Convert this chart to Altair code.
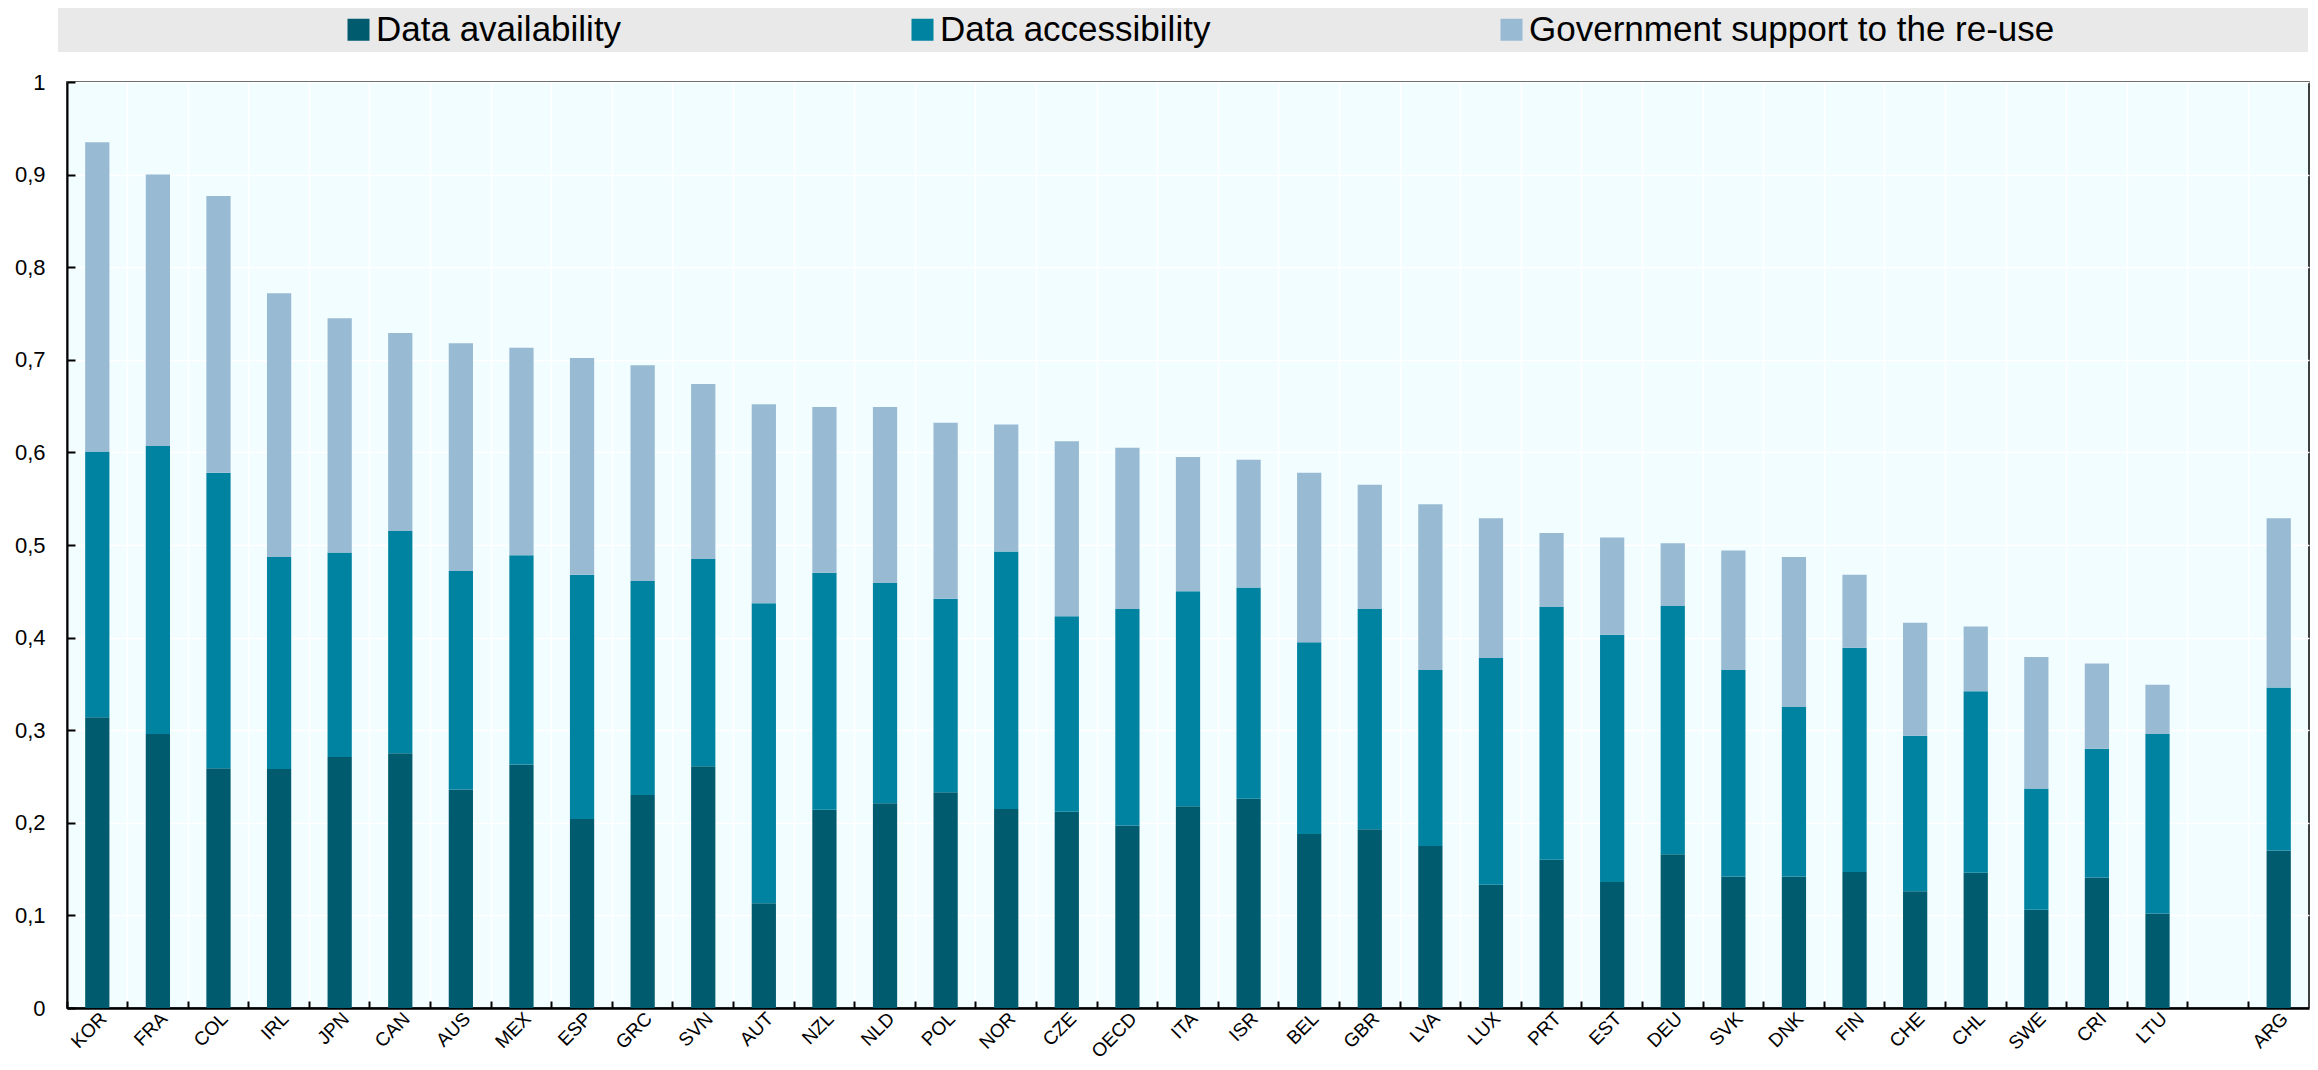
import altair as alt
import pandas as pd

countries = ["KOR", "FRA", "COL", "IRL", "JPN", "CAN", "AUS", "MEX", "ESP", "GRC",
             "SVN", "AUT", "NZL", "NLD", "POL", "NOR", "CZE", "OECD", "ITA", "ISR",
             "BEL", "GBR", "LVA", "LUX", "PRT", "EST", "DEU", "SVK", "DNK", "FIN",
             "CHE", "CHL", "SWE", "CRI", "LTU", "ARG"]

availability = [0.314, 0.296, 0.259, 0.258, 0.271, 0.275, 0.236, 0.263, 0.204, 0.230,
                0.261, 0.113, 0.214, 0.221, 0.233, 0.215, 0.212, 0.197, 0.218, 0.226,
                0.188, 0.193, 0.175, 0.133, 0.160, 0.136, 0.166, 0.142, 0.142, 0.147,
                0.126, 0.146, 0.106, 0.141, 0.102, 0.170]

accessibility = [0.287, 0.311, 0.319, 0.229, 0.221, 0.240, 0.236, 0.226, 0.264, 0.231,
                 0.224, 0.324, 0.256, 0.238, 0.209, 0.278, 0.211, 0.234, 0.232, 0.228,
                 0.207, 0.238, 0.190, 0.245, 0.273, 0.267, 0.268, 0.223, 0.183, 0.242,
                 0.168, 0.196, 0.131, 0.139, 0.194, 0.176]

support = [0.334, 0.293, 0.299, 0.285, 0.253, 0.214, 0.246, 0.224, 0.234, 0.233,
           0.189, 0.215, 0.179, 0.190, 0.190, 0.137, 0.189, 0.174, 0.145, 0.138,
           0.183, 0.134, 0.179, 0.151, 0.080, 0.105, 0.068, 0.129, 0.162, 0.079,
           0.122, 0.070, 0.142, 0.092, 0.053, 0.183]

series_names = ["Data availability", "Data accessibility", "Government support to the re-use"]
series_colors = ["#005B6E", "#0083A1", "#98BAD3"]
y_ticks = [0, 0.1, 0.2, 0.3, 0.4, 0.5, 0.6, 0.7, 0.8, 0.9, 1]

# x domain with an empty slot before ARG
x_domain = countries[:-1] + [" "] + [countries[-1]]

rows = []
for i, c in enumerate(countries):
    for k, vals in enumerate([availability, accessibility, support]):
        rows.append({"country": c, "series": series_names[k], "value": vals[i], "ord": k})
df = pd.DataFrame(rows)

W, H = 2242, 926
TOP = 74
FONT = "Liberation Sans"

xscale = alt.Scale(domain=x_domain, paddingInner=0, paddingOuter=0)
yscale = alt.Scale(domain=[0, 1], nice=False)

base = alt.Chart(df)

# legend background band
band = alt.Chart(pd.DataFrame({"b": [0]})).mark_rect(color="#E9E9E9").encode(
    x=alt.value(-9), x2=alt.value(2241), y=alt.value(-TOP), y2=alt.value(-30)
)

# inward ticks on both axes, vertical grid at band edges
tick_layer = base.mark_bar(opacity=0).encode(
    x=alt.X("country:N", scale=xscale,
            axis=alt.Axis(orient="top", offset=-H, bandPosition=0, labels=False,
                          ticks=True, tickSize=7, tickColor="black", tickWidth=2,
                          domain=False, grid=True, gridColor="white", gridWidth=1.5,
                          title=None)),
    y=alt.Y("value:Q", stack="zero", scale=yscale,
            axis=alt.Axis(orient="right", offset=-W, values=y_ticks, labels=False,
                          ticks=True, tickSize=8, tickColor="black", tickWidth=2,
                          domain=False, grid=False, title=None)),
)

bars = base.mark_bar(width=alt.RelativeBandSize(0.4)).encode(
    x=alt.X("country:N", scale=xscale,
            axis=alt.Axis(orient="bottom", title=None, labelAngle=-45, labelAlign="right",
                          labelBaseline="top", ticks=False, labelPadding=1,
                          domain=True, domainColor="black", domainWidth=2.5, grid=False,
                          labelFontSize=19, labelFont=FONT, labelColor="black",
                          labelOverlap=False, labelBound=False, labelFlush=False)),
    y=alt.Y("value:Q", stack="zero", scale=yscale,
            axis=alt.Axis(orient="left", title=None, values=y_ticks, format=".1~f",
                          labelExpr="replace(datum.label, '.', ',')", ticks=False,
                          labelPadding=22, domain=True, domainColor="black",
                          domainWidth=2, grid=True, gridColor="white", gridWidth=1.5,
                          labelFontSize=22, labelFont=FONT, labelColor="black")),
    color=alt.Color("series:N",
                    scale=alt.Scale(domain=series_names, range=series_colors),
                    legend=alt.Legend(orient="none", legendX=274, legendY=-70,
                                      direction="horizontal", title=None,
                                      symbolType="square", symbolSize=484,
                                      symbolStrokeWidth=0, symbolOpacity=1,
                                      labelFontSize=35, labelFont=FONT,
                                      labelColor="black", labelLimit=1000,
                                      columnPadding=283, labelOffset=0, padding=0)),
    order=alt.Order("ord:Q"),
)

chart = alt.layer(band, tick_layer, bars).resolve_axis(
    x="independent", y="independent"
).properties(
    width=W, height=H,
    autosize=alt.AutoSizeParams(type="none"),
    padding={"left": 59, "top": TOP, "right": 1, "bottom": 54},
).configure(font=FONT).configure_view(
    fill="#F2FDFF", stroke="black", strokeWidth=1.5
)

chart.save("out.html", embed_options={"renderer": "svg", "actions": False})
